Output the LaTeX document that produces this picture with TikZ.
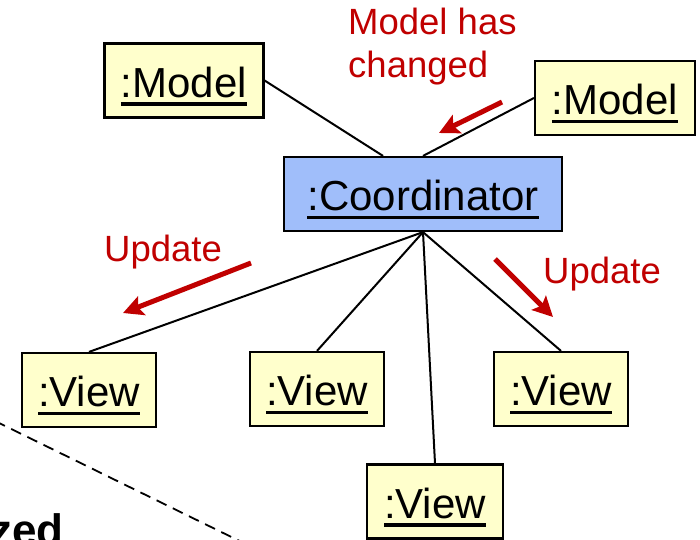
\documentclass[tikz,border=0pt]{standalone}
\usepackage{fontspec}
\setmainfont{Liberation Sans}
\usetikzlibrary{arrows.meta,calc}

\definecolor{objyellow}{RGB}{255,255,204}
\definecolor{ctrlblue}{RGB}{160,190,250}
\definecolor{notered}{RGB}{192,0,0}

% underlined object name
\newcommand{\objname}[1]{\setbox0\hbox{#1}\rlap{\rule[-8.5pt]{\wd0}{3.5pt}}\box0}

\begin{document}
\begin{tikzpicture}[
    x=1pt, y=-1pt,
    obj/.style={rectangle, draw=black, fill=objyellow, line width=2.2pt,
                minimum width=134pt, minimum height=74pt, inner sep=0pt,
                text height=33pt, text depth=0pt,
                font=\fontsize{42}{48}\selectfont},
    ctrl/.style={obj, fill=ctrlblue, minimum width=278pt},
    link/.style={line width=2pt},
    notify/.style={-{Stealth[length=20pt, width=20pt, inset=4pt]}, notered, line width=5pt},
    note/.style={notered, inner sep=0pt, font=\fontsize{36.5}{43}\selectfont}
]
    \useasboundingbox (0,0) rectangle (700,539);
    \clip (0,0) rectangle (700,539);

    \node[obj, minimum width=159pt] (model1) at (184,80.5) {\objname{:Model}};
    \node[obj, minimum width=160pt] (model2) at (615,98) {\objname{:Model}};
    \node[ctrl] (coord) at (423,194) {\objname{:Coordinator}};
    \node[obj] (view1) at (89,390) {\objname{:View}};
    \node[obj] (view2) at (317,389) {\objname{:View}};
    \node[obj] (view3) at (561,389) {\objname{:View}};
    \node[obj, minimum width=136pt] (view4) at (435,501.5) {\objname{:View}};

    \draw[link] (model1.east) -- ([xshift=-40pt]coord.north);
    \draw[link] (model2.west) -- (coord.north);
    \draw[link] (coord.south) -- (view1.north);
    \draw[link] (coord.south) -- (view2.north);
    \draw[link] (coord.south) -- (view4.north);
    \draw[link] (coord.south) -- (view3.north);

    % change notification and updates
    \node[note, anchor=north west, align=left] (changed) at (348,8) {Model has\\changed};
    \node[note, anchor=base west] (updL) at (104,261) {Update};
    \node[note, anchor=base west] (updR) at (543,283) {Update};

    \coordinate (chgFrom) at (502,102);
    \coordinate (chgTo) at (439,133);
    \coordinate (updLFrom) at (251,263);
    \coordinate (updLTo) at (123,313);
    \coordinate (updRFrom) at (495,259);
    \coordinate (updRTo) at (553,317);
    \draw[notify] (chgFrom) -- (chgTo);
    \draw[notify] (updLFrom) -- (updLTo);
    \draw[notify] (updRFrom) -- (updRTo);

    % cut-off part of the next picture
    \draw[line width=1.8pt, dash pattern=on 11pt off 7pt] (-5,421) -- (262,552);
    \node[anchor=base east, inner sep=0pt, font=\fontsize{44}{48}\selectfont\bfseries] (zed) at (64,545) {zed};
\end{tikzpicture}
\end{document}
